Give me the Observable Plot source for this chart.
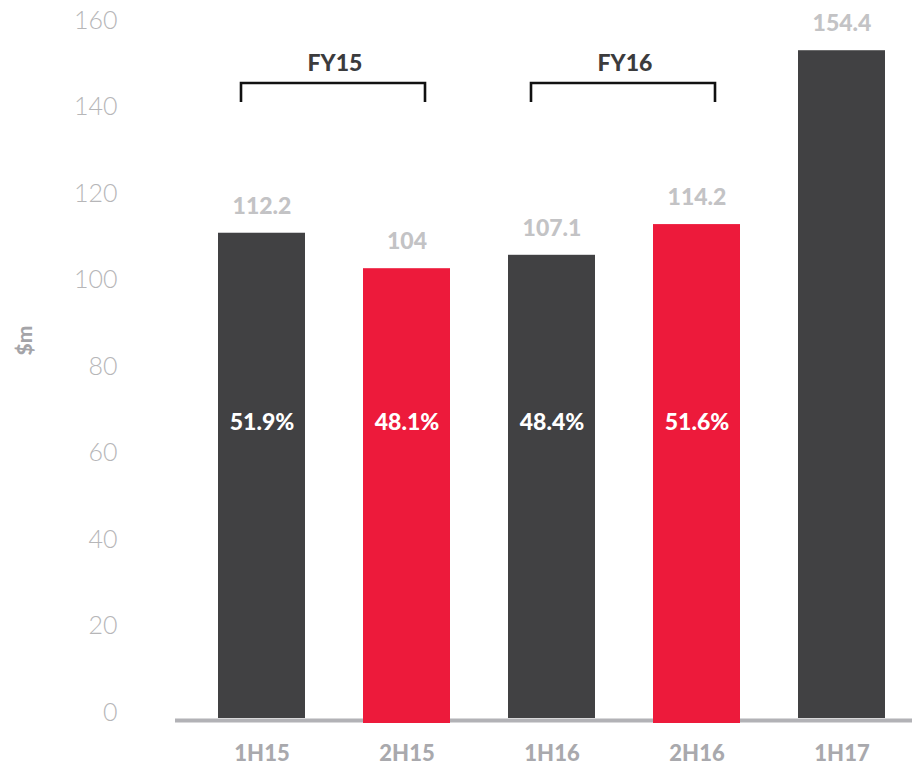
<!DOCTYPE html>
<html>
<head>
<meta charset="utf-8">
<script src="https://cdn.jsdelivr.net/npm/d3@7"></script>
<script src="https://cdn.jsdelivr.net/npm/@observablehq/plot@0.6"></script>
<style>
  html, body { margin: 0; padding: 0; background: #fff; }
  #chart svg { display: block; }
</style>
</head>
<body>
<div id="chart"></div>
<script>
// ---- data ----
const periods = ["1H15", "2H15", "1H16", "2H16", "1H17"];
const revenue = [112.2, 104, 107.1, 114.2, 154.4];
const revenueLabels = ["112.2", "104", "107.1", "114.2", "154.4"];
const shares = ["51.9%", "48.1%", "48.4%", "51.6%", ""];
const yTicks = [0, 20, 40, 60, 80, 100, 120, 140, 160];
const fyNames = ["FY15", "FY16"];
const fyFirst = ["1H15", "1H16"];
const fyLast = ["2H15", "2H16"];
const yLabel = "$m";

const rows = periods.map((p, i) => ({period: p, value: revenue[i], label: revenueLabels[i], share: shares[i], second: p.startsWith("2H")}));
const fy = fyNames.map((n, i) => ({name: n, first: fyFirst[i], last: fyLast[i]}));

const DARK = "#414143", RED = "#ed1a3b";
const FONT = "Lato, 'Open Sans', sans-serif";

// FY brackets drawn through the x scale
function fyBrackets(index, scales, values, dims) {
  const x = scales.x, bw = x.bandwidth ? x.bandwidth() : 0;
  const g = d3.create("svg:g");
  const top = dims.marginTop + 57, leg = 19;
  for (const d of fy) {
    const x1 = x(d.first) + bw / 2 - 20.5;
    const x2 = x(d.last) + bw / 2 + 18.5;
    g.append("path")
      .attr("d", `M${x1},${top + leg}V${top}H${x2}V${top + leg}`)
      .attr("fill", "none").attr("stroke", "#111").attr("stroke-width", 2.6);
    g.append("text")
      .attr("x", (x1 + x2) / 2 + 2).attr("y", top - 21)
      .attr("text-anchor", "middle").attr("dominant-baseline", "central")
      .attr("font-family", FONT).attr("font-weight", 900).attr("font-size", 23)
      .attr("fill", "#3b3b3d").text(d.name);
  }
  return g.node();
}

const chart = Plot.plot({
  width: 912,
  height: 768,
  marginLeft: 191,
  marginRight: 0,
  marginTop: 26,
  marginBottom: 50,
  style: {fontFamily: FONT, background: "#fff"},
  x: {domain: periods, paddingInner: 0.402, paddingOuter: 0.1785, label: null},
  y: {domain: [0, 160], label: null},
  marks: [
    Plot.axisY({ticks: yTicks, tickSize: 0, tickPadding: 74, dy: -6, fontSize: 25, fontWeight: 300, color: "#b6b6b8", label: null}),
    Plot.axisX({tickSize: 0, tickPadding: 27, fontSize: 22, fontWeight: 900, color: "#a9a9ad", label: null}),
    Plot.barY(rows.filter(d => !d.second), {x: "period", y: "value", fill: DARK}),
    Plot.ruleY([0], {stroke: "#b2b2b6", strokeWidth: 4, dy: 2, insetLeft: -16}),
    Plot.barY(rows.filter(d => d.second), {x: "period", y: "value", fill: RED, insetBottom: -5}),
    Plot.text(rows, {x: "period", y: "value", text: "label", dy: -27, lineAnchor: "middle", fontSize: 23, fontWeight: 900, fill: "#c3c3c5"}),
    Plot.text(rows.filter(d => d.share), {x: "period", text: "share", frameAnchor: "bottom", dy: -296, lineAnchor: "middle", fontSize: 23, fontWeight: 900, fill: "#fff"}),
    Plot.text([yLabel], {frameAnchor: "left", rotate: -90, dx: -166, dy: -17, fontSize: 21, fontWeight: 900, fill: "#a4a4a8"}),
    fyBrackets
  ]
});
document.getElementById("chart").appendChild(chart);
</script>
</body>
</html>
